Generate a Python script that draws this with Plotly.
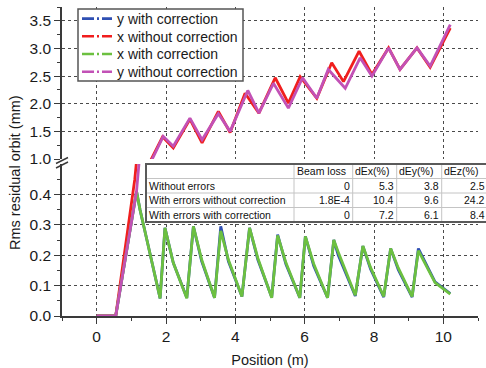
import plotly.graph_objects as go

# ---------------- data ----------------
# with-correction series (lower panel)
corr_x = [0, 0.55, 1.15, 1.25, 1.45, 1.83, 1.97, 2.21, 2.60, 2.79, 3.03, 3.40, 3.58, 3.80, 4.19,
          4.41, 4.65, 5.05, 5.22, 5.46, 5.86, 6.02, 6.26, 6.66, 6.84, 6.97, 7.46, 7.68, 7.90,
          8.28, 8.48, 8.70, 9.10, 9.28, 9.76, 10.2]
x_with_corr = [0, 0, 0.41, 0.35, 0.25, 0.058, 0.29, 0.175, 0.058, 0.295, 0.185, 0.06, 0.28, 0.185,
               0.064, 0.29, 0.19, 0.06, 0.265, 0.175, 0.06, 0.262, 0.172, 0.06, 0.25, 0.21, 0.068,
               0.23, 0.16, 0.064, 0.222, 0.158, 0.064, 0.215, 0.11, 0.072]
y_with_corr = [0, 0, 0.41, 0.35, 0.25, 0.058, 0.29, 0.175, 0.06, 0.295, 0.18, 0.06, 0.295, 0.18,
               0.064, 0.29, 0.185, 0.062, 0.268, 0.17, 0.06, 0.262, 0.165, 0.06, 0.25, 0.20, 0.066,
               0.23, 0.155, 0.062, 0.222, 0.152, 0.062, 0.222, 0.112, 0.074]

# without-correction series (upper panel)
ync_x = [0, 0.55, 1.15, 1.45, 1.92, 2.21, 2.69, 3.04, 3.51, 3.85, 4.36, 4.68, 5.10, 5.53, 5.94,
         6.35, 6.68, 7.17, 7.60, 7.94, 8.42, 8.75, 9.24, 9.62, 10.2]
y_without_corr = [0, 0, 0.41, 0.80, 1.41, 1.23, 1.74, 1.35, 1.82, 1.50, 2.24, 1.83, 2.37, 1.92,
                  2.47, 2.10, 2.62, 2.28, 2.83, 2.50, 3.01, 2.62, 3.01, 2.68, 3.43]
xnc_x = [0, 0.55, 1.10, 1.45, 1.90, 2.21, 2.69, 3.04, 3.51, 3.85, 4.28, 4.68, 5.15, 5.53, 5.87,
         6.35, 6.78, 7.12, 7.57, 7.94, 8.42, 8.75, 9.24, 9.62, 10.2]
x_without_corr = [0, 0, 0.45, 0.84, 1.40, 1.20, 1.72, 1.29, 1.86, 1.48, 2.19, 1.83, 2.47, 2.01,
                  2.49, 2.10, 2.74, 2.40, 2.95, 2.53, 3.01, 2.62, 3.01, 2.66, 3.37]

series_names = ["y with correction", "x without correction", "x with correction", "y without correction"]

# table
table_header = ["", "Beam loss", "dEx(%)", "dEy(%)", "dEz(%)"]
table_rows = [
    ["Without errors", "0", "5.3", "3.8", "2.5"],
    ["With errors without correction", "1.8E-4", "10.4", "9.6", "24.2"],
    ["With errors with correction", "0", "7.2", "6.1", "8.4"],
]

x_tickvals = [0, 2, 4, 6, 8, 10]
y_low_ticks = [0.0, 0.1, 0.2, 0.3, 0.4]
y_up_ticks = [1.0, 1.5, 2.0, 2.5, 3.0, 3.5]

# ---------------- styles / layout ----------------
W, H = 486, 368
ML, MR, MT, MB = 62, 0, 7, 52
PW, PH = W - ML - MR, H - MT - MB
PLOT_RIGHT = 478
BOTTOM = H - MB


def px(X):
    return (X - ML) / PW


def py(Y):
    return (BOTTOM - Y) / PH


colors = ["#2f4fb3", "#f01e1e", "#6cc040", "#c251b6"]
FONT = "Arial, Liberation Sans, sans-serif"
AX = "#3a3a3a"
LW = 2.8

series = [
    (corr_x, y_with_corr),
    (xnc_x, x_without_corr),
    (corr_x, x_with_corr),
    (ync_x, y_without_corr),
]

fig = go.Figure()
for yref in ["y", "y2"]:
    for (xs, ys), c in zip(series, colors):
        fig.add_trace(go.Scatter(x=xs, y=ys, mode="lines", xaxis="x", yaxis=yref,
                                 line=dict(color=c, width=LW), showlegend=False,
                                 hoverinfo="skip"))

# legend: one single-entry legend per series, stacked inside a drawn frame
LEG_LEFT, LEG_TOP, LEG_RIGHT, LEG_BOTTOM = 78, 9, 243, 81
LEG_ROW = 17.7
legend_layouts = {}
for i, (name, c) in enumerate(zip(series_names, colors)):
    key = "legend" if i == 0 else f"legend{i + 1}"
    fig.add_trace(go.Scatter(x=[None], y=[None], mode="lines", name=name, xaxis="x", yaxis="y2",
                             legend=key,
                             line=dict(color=c, width=2.6, dash="12px,3px,2px,3px")))
    legend_layouts[key] = dict(x=px(LEG_LEFT - 1), y=py(LEG_TOP + 10 + i * LEG_ROW),
                               xanchor="left", yanchor="middle", bgcolor="rgba(0,0,0,0)",
                               borderwidth=0, font=dict(size=14, color="#1a1a1a"),
                               itemwidth=30)

fig.add_shape(type="rect", xref="paper", yref="paper", x0=px(LEG_LEFT), x1=px(LEG_RIGHT),
              y0=py(LEG_BOTTOM), y1=py(LEG_TOP), fillcolor="white",
              line=dict(color="#555555", width=1.5), layer="above")

low_top = BOTTOM - 152
up_bottom = low_top - 5

axis_common = dict(showline=True, linecolor=AX, linewidth=1.5, ticks="outside", ticklen=6,
                   tickwidth=1.4, tickcolor=AX, showgrid=True, gridcolor="#4a4a4a",
                   griddash="dot", gridwidth=1, zeroline=False,
                   tickfont=dict(size=15.5, color="#1a1a1a", family=FONT))

fig.update_layout(
    width=W, height=H,
    margin=dict(l=ML, r=MR, t=MT, b=MB),
    plot_bgcolor="white", paper_bgcolor="white",
    font=dict(family=FONT, size=14, color="#1a1a1a"),
    xaxis=dict(domain=[0, (PLOT_RIGHT - ML) / PW], range=[-1, 11], tickmode="array",
               tickvals=x_tickvals, anchor="y",
               minor=dict(tickvals=[-1, 1, 3, 5, 7, 9, 11], ticks="outside", ticklen=3.5,
                          tickcolor=AX, showgrid=False),
               title=dict(text="Position (m)", font=dict(size=14.5), standoff=12),
               **axis_common),
    yaxis=dict(domain=[0, py(low_top)], range=[0, 0.5], tickmode="array",
               tickvals=y_low_ticks, ticktext=[f"{v:.1f}" for v in y_low_ticks], anchor="x",
               minor=dict(tickvals=[0.05, 0.15, 0.25, 0.35, 0.45], ticks="outside", ticklen=3.5,
                          tickcolor=AX, showgrid=False),
               **axis_common),
    yaxis2=dict(domain=[py(up_bottom), 1], range=[1.0, 3.75], tickmode="array",
                tickvals=y_up_ticks, ticktext=[f"{v:.1f}" for v in y_up_ticks], anchor="x",
                minor=dict(tickvals=[1.25, 1.75, 2.25, 2.75, 3.25, 3.75], ticks="outside",
                           ticklen=3.5, tickcolor=AX, showgrid=False),
                **axis_common),
    **legend_layouts,
)

# y-axis title
fig.add_annotation(text="Rms residual orbit (mm)", xref="paper", yref="paper",
                   x=px(15), y=py(173), xanchor="center", yanchor="middle", textangle=-90,
                   showarrow=False, font=dict(size=14.5, color="#1a1a1a"))

# axis break marks
for dy in (0, 4.5):
    fig.add_shape(type="line", xref="paper", yref="paper",
                  x0=px(56), y0=py(163.5 + dy), x1=px(68), y1=py(157.5 + dy),
                  line=dict(color=AX, width=1.4), layer="above")

# ---------------- inset table ----------------
T_LEFT, T_TOP, ROW_H = 146, 164, 14.5
COL_W = [148, 58.7, 44, 45, 45.3]
T_RIGHT_DRAW = 500
n_rows = 1 + len(table_rows)
T_BOTTOM = T_TOP + ROW_H * n_rows
col_edges = [T_LEFT]
for w in COL_W:
    col_edges.append(col_edges[-1] + w)

fig.add_shape(type="rect", xref="paper", yref="paper", x0=px(T_LEFT), x1=px(T_RIGHT_DRAW),
              y0=py(T_BOTTOM), y1=py(T_TOP), fillcolor="white", line=dict(width=0), layer="above")
for r in range(1, n_rows):
    yy = T_TOP + r * ROW_H
    fig.add_shape(type="line", xref="paper", yref="paper", x0=px(T_LEFT), x1=px(T_RIGHT_DRAW),
                  y0=py(yy), y1=py(yy), line=dict(color="#c4c4c4", width=1), layer="above")
for xe in col_edges[1:-1]:
    fig.add_shape(type="line", xref="paper", yref="paper", x0=px(xe), x1=px(xe),
                  y0=py(T_TOP), y1=py(T_BOTTOM), line=dict(color="#c4c4c4", width=1), layer="above")
fig.add_shape(type="rect", xref="paper", yref="paper", x0=px(T_LEFT), x1=px(T_RIGHT_DRAW),
              y0=py(T_BOTTOM), y1=py(T_TOP), line=dict(color="#5a5a5a", width=2), layer="above")

all_rows = [table_header] + table_rows
for r, row in enumerate(all_rows):
    yc = T_TOP + (r + 0.5) * ROW_H
    for c, txt in enumerate(row):
        if not txt:
            continue
        if r == 0 or c == 0:
            xa, xx = "left", col_edges[c] + 2.5
        else:
            xa, xx = "right", col_edges[c + 1] - 2.5
        fig.add_annotation(text=txt, xref="paper", yref="paper", x=px(xx), y=py(yc),
                           xanchor=xa, yanchor="middle", showarrow=False, borderpad=0,
                           borderwidth=0, font=dict(size=10.5, color="#111111"))

fig.write_html("out.html")
